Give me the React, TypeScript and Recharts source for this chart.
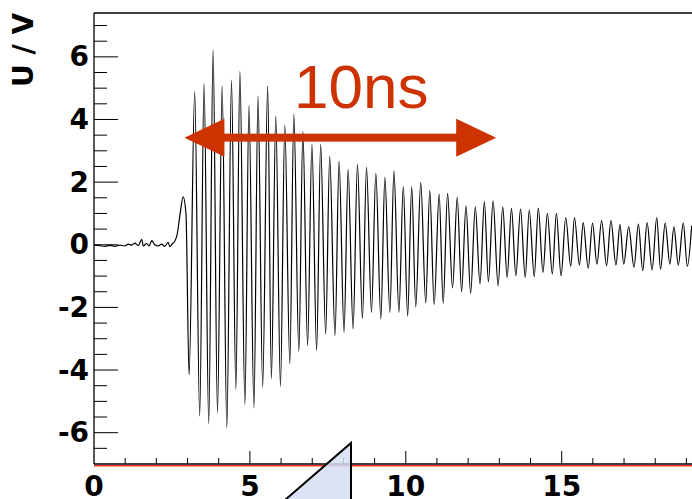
import { LineChart, Line, XAxis, YAxis, ReferenceLine } from "recharts"

// time in ns, voltage in V (baseline noise, then peak/trough of each half period)
const times = [
  0.0, 0.19, 0.35, 0.51, 0.67, 0.83, 0.99, 1.1, 1.21, 1.31, 1.42, 1.53, 1.58, 1.69, 1.77, 1.85, 1.95,
  2.06, 2.17, 2.27, 2.38, 2.43, 2.52, 2.59, 2.67, 2.76, 2.86, 2.95,
  3.05, 3.23, 3.39, 3.53, 3.68, 3.82, 3.96, 4.11, 4.26, 4.41, 4.55, 4.68, 4.84, 4.97, 5.13, 5.26,
  5.41, 5.57, 5.69, 5.83, 5.98, 6.12, 6.28, 6.41, 6.57, 6.7, 6.85, 6.99, 7.14, 7.27, 7.43, 7.56,
  7.73, 7.86, 8.02, 8.15, 8.31, 8.45, 8.61, 8.74, 8.9, 9.04, 9.2, 9.33, 9.49, 9.62, 9.78, 9.92,
  10.06, 10.19, 10.32, 10.48, 10.64, 10.77, 10.91, 11.07, 11.2, 11.34, 11.5, 11.65, 11.79, 11.93,
  12.08, 12.23, 12.38, 12.52, 12.65, 12.8, 12.96, 13.11, 13.25, 13.39, 13.53, 13.68, 13.83, 13.96,
  14.12, 14.25, 14.4, 14.54, 14.7, 14.83, 14.98, 15.13, 15.29, 15.41, 15.57, 15.69, 15.85, 15.99,
  16.13, 16.28, 16.44, 16.58, 16.74, 16.87, 16.99, 17.15, 17.32, 17.46, 17.6, 17.74, 17.9, 18.05,
  18.17, 18.32, 18.47, 18.6, 18.74, 18.9, 19.03, 19.17,
]
const volts = [
  -0.01, -0.03, -0.05, -0.02, -0.05, -0.01, -0.04, 0.02, -0.01, 0.05, -0.03, 0.17, -0.04, 0.04, -0.04, 0.13, 0.0,
  -0.04, 0.02, -0.05, 0.08, -0.06, 0.04, 0.11, 0.34, 0.98, 1.53, 0.98,
  -4.15, 4.89, -5.47, 5.15, -5.72, 6.22, -5.37, 5.07, -5.85, 5.26, -4.62, 5.53, -5.1, 4.45, -5.21, 4.75,
  -4.55, 5.07, -4.28, 4.11, -4.52, 3.82, -3.8, 4.17, -3.41, 3.62, -3.22, 3.21, -3.38, 3.21, -2.85, 2.82,
  -2.9, 2.66, -2.79, 2.41, -2.69, 2.57, -2.35, 2.47, -2.16, 2.28, -2.37, 2.15, -2.16, 2.36, -2.16, 1.86,
  -2.28, 1.86, -1.98, 1.99, -1.86, 1.74, -1.91, 1.62, -1.87, 1.64, -1.38, 1.51, -1.5, 1.24,
  -1.55, 1.21, -1.25, 1.38, -1.18, 1.4, -1.31, 1.21, -1.04, 1.16, -0.99, 1.14, -1.04, 1.11,
  -1.02, 1.17, -0.88, 1.0, -0.93, 1.0, -0.99, 0.87, -0.69, 0.87, -0.65, 0.71, -0.75, 0.69,
  -0.62, 0.77, -0.67, 0.77, -0.65, 0.64, -0.62, 0.57, -0.72, 0.66, -0.83, 0.71, -0.8, 0.87,
  -0.78, 0.69, -0.62, 0.57, -0.65, 0.69, -0.69, 0.61,
]

const xTicks = [0, 1, 2, 3, 4, 5, 6, 7, 8, 9, 10, 11, 12, 13, 14, 15, 16, 17, 18, 19]
const yTicks = [
  -6.5, -6, -5.5, -5, -4.5, -4, -3.5, -3, -2.5, -2, -1.5, -1, -0.5, 0,
  0.5, 1, 1.5, 2, 2.5, 3, 3.5, 4, 4.5, 5, 5.5, 6, 6.5, 7,
]

const arrowStart = 2.9
const arrowEnd = 12.9
const arrowLevel = 3.42
const arrowText = "10ns"

const data = times.map((t, i) => ({ t, u: volts[i] }))

const RED = "#cc3300"
const FONT = "'DejaVu Sans', Arial, sans-serif"

function YTick(props: any) {
  const { x, y, payload } = props
  const v = payload.value
  const major = v % 2 === 0
  return (
    <g>
      <line x1={x} y1={y} x2={x + (major ? 24 : 13)} y2={y} stroke="#000" strokeWidth={1} />
      {major && (
        <text x={x - 5} y={y} textAnchor="end" dominantBaseline="central"
          fontFamily={FONT} fontWeight="bold" fontSize={28} fill="#000">
          {v}
        </text>
      )}
    </g>
  )
}

function XTick(props: any) {
  const { x, y, payload } = props
  const v = payload.value
  const major = v % 5 === 0
  return (
    <g>
      {v !== 0 && <line x1={x} y1={y} x2={x} y2={y - (major ? 13 : 6)} stroke="#000" strokeWidth={1} />}
      {major && (
        <text x={x} y={y + 32} textAnchor="middle"
          fontFamily={FONT} fontWeight="bold" fontSize={28} fill="#000">
          {v}
        </text>
      )}
    </g>
  )
}

function DoubleArrow(props: any) {
  const { x1, y1, x2 } = props
  const left = Math.min(x1, x2)
  const right = Math.max(x1, x2)
  const y = y1
  const head = 40
  const half = 19
  return (
    <g>
      <rect x={left + head - 1} y={y - 4} width={right - left - 2 * head + 2} height={8} fill={RED} />
      <polygon points={`${left},${y} ${left + head},${y - half} ${left + head},${y + half}`} fill={RED} />
      <polygon points={`${right},${y} ${right - head},${y - half} ${right - head},${y + half}`} fill={RED} />
      <text x={(left + right) / 2 + 21} y={y - 30} textAnchor="middle" fontSize={62}
        fontFamily="'Liberation Sans', Arial, sans-serif" fill={RED}>
        {arrowText}
      </text>
    </g>
  )
}

function RedBase(props: any) {
  const { x1, y1, x2 } = props
  return <line x1={x1} y1={y1 + 1.8} x2={x2} y2={y1 + 1.8} stroke="#f03020" strokeWidth={1.4} />
}

export default function App() {
  return (
    <div style={{ position: "absolute", left: 0, top: 0, width: 692, height: 499, overflow: "hidden", background: "#fff" }}>
      <LineChart width={700} height={499} data={data} margin={{ top: 13, right: 8, bottom: 0, left: 0 }}>
        <XAxis
          dataKey="t"
          type="number"
          domain={[0, 19.18]}
          allowDataOverflow
          ticks={xTicks}
          interval={0}
          tickSize={0}
          tickMargin={0}
          tickLine={false}
          tick={<XTick />}
          height={35}
          axisLine={{ stroke: "#000", strokeWidth: 1.3 }}
        />
        <YAxis
          type="number"
          domain={[-7, 7.4]}
          allowDataOverflow
          ticks={yTicks}
          interval={0}
          tickSize={0}
          tickMargin={0}
          tickLine={false}
          tick={<YTick />}
          width={94}
          axisLine={{ stroke: "#000", strokeWidth: 1.3 }}
          label={{
            content: () => (
              <text transform="translate(23, 50) rotate(-90)" textAnchor="middle" dominantBaseline="central"
                fontFamily={FONT} fontWeight="bold" fontSize={28} fill="#000">
                U / V
              </text>
            ),
          }}
        />
        <ReferenceLine y={7.4} stroke="#000" strokeWidth={1.3} />
        <ReferenceLine y={-7} shape={<RedBase />} />
        <Line
          dataKey="u"
          type="monotone"
          stroke="#000"
          strokeWidth={1.2}
          dot={false}
          isAnimationActive={false}
        />
        <ReferenceLine
          segment={[{ x: arrowStart, y: arrowLevel }, { x: arrowEnd, y: arrowLevel }]}
          shape={<DoubleArrow />}
        />
      </LineChart>
      <svg width={692} height={499} style={{ position: "absolute", left: 0, top: 0, pointerEvents: "none" }}>
        <polygon points="351,443 351,500 285,500" fill="#d6def3" fillOpacity={0.85} stroke="#000" strokeWidth={2} />
      </svg>
    </div>
  )
}
